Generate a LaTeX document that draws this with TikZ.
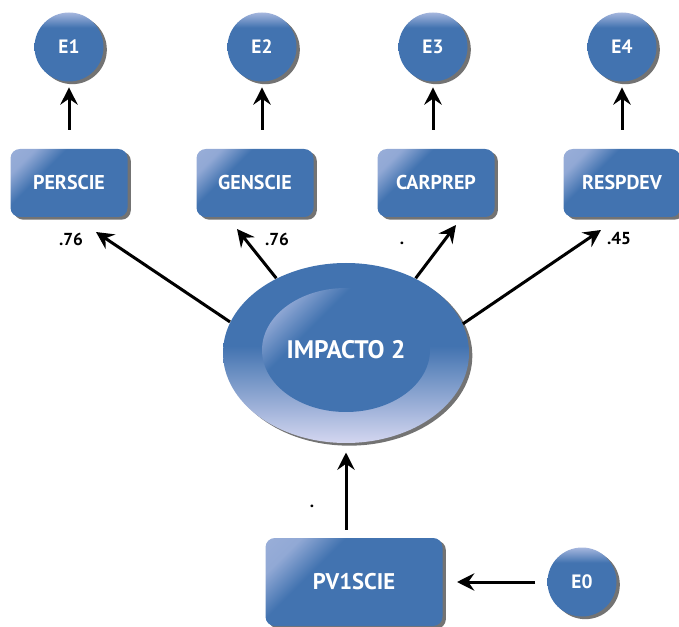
\documentclass[tikz,border=0pt]{standalone}
\usepackage{fontspec}
\setmainfont{PT Sans}
\usetikzlibrary{arrows.meta,shadows,shapes.geometric}

\definecolor{semblue}{RGB}{66,115,176}
\definecolor{semlight}{RGB}{165,182,222}
\definecolor{semlow}{RGB}{212,214,240}

\pgfdeclarehorizontalshading{boxshade}{100bp}{color(0bp)=(semlight); color(24bp)=(semlight!80!semblue); color(36bp)=(semblue); color(100bp)=(semblue)}
\pgfdeclareverticalshading{ballshade}{100bp}{color(0bp)=(semblue); color(64bp)=(semblue); color(75bp)=(semlight); color(100bp)=(semlight)}
\pgfdeclareverticalshading{ellshade}{100bp}{color(0bp)=(semlow); color(25bp)=(semlow); color(52bp)=(semblue); color(100bp)=(semblue)}

\tikzset{every picture/.style={line width=0.75pt},
  semshadow/.style={drop shadow={shadow xshift=2.5pt,shadow yshift=-2pt,opacity=0.55,fill=black}},
  latent/.style={circle,minimum size=51.75pt,inner sep=0pt,shading=ballshade,semshadow,text=white,font=\fontsize{14.5}{16}\selectfont\bfseries},
  observed/.style={rectangle,rounded corners=7pt,minimum width=87.75pt,minimum height=51pt,inner sep=0pt,shading=boxshade,shading angle=-45,semshadow,text=white,font=\fontsize{15}{18}\selectfont\bfseries},
  regline/.style={line width=2.25pt,-{Stealth[length=13pt,width=13pt,inset=4.5pt]}},
  coef/.style={inner sep=0pt,font=\fontsize{13}{15}\selectfont\bfseries}
}

\begin{document}
\begin{tikzpicture}[x=0.75pt,y=0.75pt,yscale=-1,xscale=1]
\useasboundingbox (0,0) rectangle (679,627);

%Shape: Ellipse
\node [ellipse,minimum width=184.5pt,minimum height=135pt,inner sep=0pt,shading=ellshade,semshadow] (impacto) at (346,353) {};
\node [ellipse,minimum width=123pt,minimum height=93pt,inner sep=0pt,shading=boxshade,shading angle=-45,text=white,font=\fontsize{19}{22}\selectfont\bfseries] (impinner) at (346,350) {IMPACTO 2};

%Shape: Circle
\node [latent] (e1) at (69,47) {E1};
\node [latent] (e2) at (262,47) {E2};
\node [latent] (e3) at (433,47) {E3};
\node [latent] (e4) at (622,47) {E4};
\node [latent] (e0) at (582,582) {E0};

%Shape: Rectangle
\node [observed] (perscie) at (69,183) {PERSCIE};
\node [observed] (genscie) at (255,183) {GENSCIE};
\node [observed] (carprep) at (436,183) {CARPREP};
\node [observed] (respdev) at (622,183) {RESPDEV};
\node [observed,minimum width=132.75pt,minimum height=66pt,font=\fontsize{17}{20}\selectfont\bfseries] (pv1scie) at (354,582) {PV1SCIE};

%Straight Lines
\draw [regline,shorten <=14pt,shorten >=4pt] (perscie.north -| e1) -- (e1);
\draw [regline,shorten <=14pt,shorten >=4pt] (genscie.north -| e2) -- (e2);
\draw [regline,shorten <=14pt,shorten >=4pt] (carprep.north -| e3) -- (e3);
\draw [regline,shorten <=14pt,shorten >=4pt] (respdev.north -| e4) -- (e4);

\coordinate (t1) at (96,232);
\coordinate (t2) at (237,229);
\coordinate (t3) at (456,225);
\coordinate (t4) at (601,230);
\draw [regline] (impacto.165) -- (t1);
\draw [regline] (impacto.133) -- (t2);
\draw [regline] (impacto.47) -- (t3);
\draw [regline] (impacto.14) -- (t4);

\draw [regline,shorten <=6pt,shorten >=6.75pt] (pv1scie.north -| impacto) -- (impacto);
\draw [regline,shorten <=9pt,shorten >=10.5pt] (e0) -- (pv1scie);

% Text Node
\node [coef] (w1) at (71,239) {.76};
\node [coef] (w2) at (277,239) {.76};
\node [coef] (w3) at (402,243) {.};
\node [coef] (w4) at (619,239) {.45};
\node [coef] (w0) at (312,506) {.};

\end{tikzpicture}
\end{document}
